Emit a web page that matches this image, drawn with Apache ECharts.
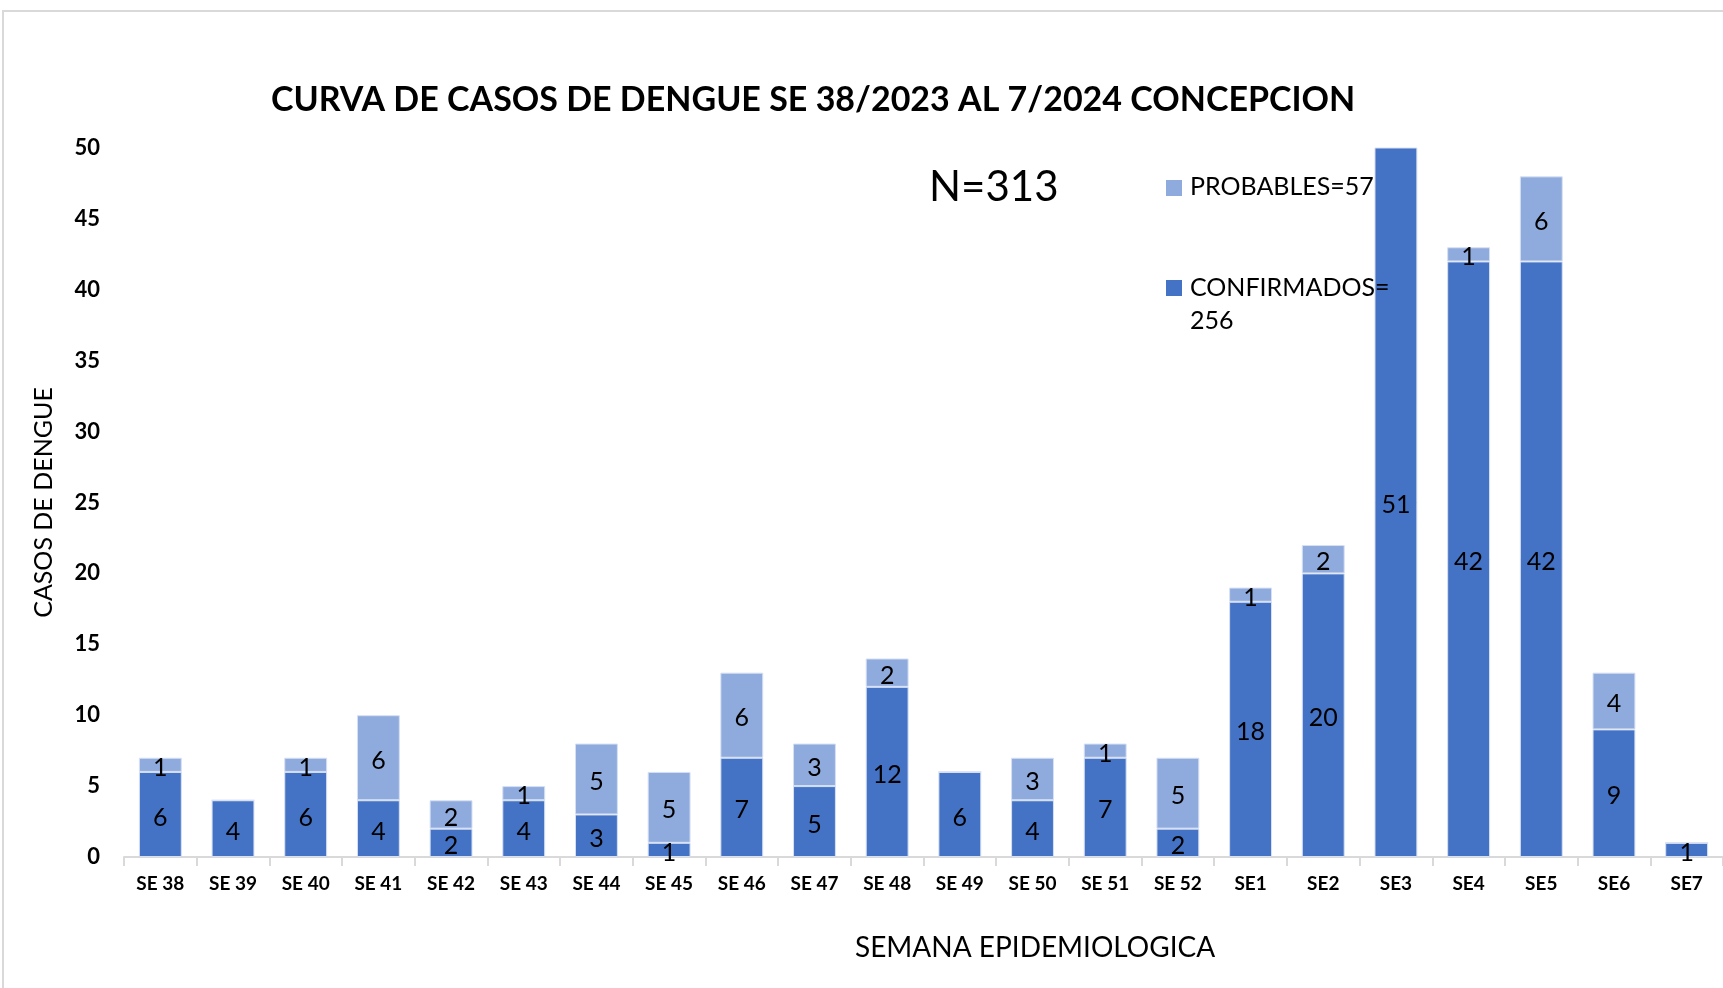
<!DOCTYPE html>
<html>
<head>
<meta charset="utf-8">
<style>
html,body{margin:0;padding:0;background:#fff;}
#chart{width:1723px;height:988px;}
</style>
<script src="https://cdn.jsdelivr.net/npm/echarts@6/dist/echarts.min.js"></script>
</head>
<body>
<div id="chart"></div>
<script>
// semanas epidemiologicas
var semanas=['SE 38','SE 39','SE 40','SE 41','SE 42','SE 43','SE 44','SE 45','SE 46','SE 47','SE 48','SE 49','SE 50','SE 51','SE 52','SE1','SE2','SE3','SE4','SE5','SE6','SE7'];
var confirmados=[6,4,6,4,2,4,3,1,7,5,12,6,4,7,2,18,20,51,42,42,9,1];
var probables=[1,0,1,6,2,1,5,5,6,3,2,0,3,1,5,1,2,0,1,6,4,0];
var yTicks=[0,5,10,15,20,25,30,35,40,45,50];

var cConf='#4472C4',cProb='#8FAADC';
var fuente='Lato, "Open Sans", sans-serif';

var myChart=echarts.init(document.getElementById('chart'));
var option={
    backgroundColor:'#fff',
    animation:false,
    title:{
        text:'CURVA DE CASOS DE DENGUE SE 38/2023 AL 7/2024 CONCEPCION',
        left:266,
        top:78,
        textStyle:{fontFamily:fuente,fontWeight:'bold',fontSize:34,color:'#000'}
    },
    grid:{left:124,right:0,top:148,bottom:131},
    xAxis:{
        type:'category',
        data:semanas,
        axisLine:{lineStyle:{color:'#D9D9D9',width:2}},
        axisTick:{show:true,length:9,lineStyle:{color:'#D9D9D9',width:2}},
        axisLabel:{fontFamily:fuente,fontWeight:'bold',fontSize:19,color:'#000',margin:17}
    },
    yAxis:{
        type:'value',
        min:yTicks[0],
        max:yTicks[yTicks.length-1],
        interval:5,
        name:'CASOS DE DENGUE',
        nameLocation:'middle',
        nameGap:68,
        nameTextStyle:{fontFamily:fuente,fontSize:25,color:'#000'},
        axisLine:{show:false},
        axisTick:{show:false},
        splitLine:{show:false},
        axisLabel:{fontFamily:fuente,fontWeight:'bold',fontSize:22,color:'#000',margin:24}
    },
    series:[
        {
            name:'CONFIRMADOS',
            type:'bar',
            stack:'total',
            data:confirmados,
            barCategoryGap:'41%',
            itemStyle:{color:cConf,borderColor:'#D6E0F3',borderWidth:1},
            label:{
                show:true,
                position:'inside',
                fontFamily:fuente,
                fontSize:25,
                color:'#000',
                offset:[0,3],
                formatter:function(p){return p.value>0?p.value:'';}
            }
        },
        {
            name:'PROBABLES',
            type:'bar',
            stack:'total',
            data:probables,
            itemStyle:{color:cProb,borderColor:'#D6E0F3',borderWidth:1},
            label:{
                show:true,
                position:'inside',
                fontFamily:fuente,
                fontSize:25,
                color:'#000',
                offset:[0,3],
                formatter:function(p){return p.value>0?p.value:'';}
            }
        }
    ],
    graphic:[
        {type:'rect',shape:{x:3,y:11,width:1740,height:1000},style:{fill:'none',stroke:'#D9D9D9',lineWidth:2},silent:true,z:-10},
        {type:'text',left:929,top:166,z:100,style:{text:'N=313',font:'42px '+fuente,fill:'#000'}},
        {type:'rect',shape:{x:1166,y:180,width:16,height:16},z:100,style:{fill:cProb}},
        {type:'text',left:1190,top:174,z:100,style:{text:'PROBABLES=57',font:'25px '+fuente,fill:'#000'}},
        {type:'rect',shape:{x:1166,y:280,width:16,height:16},z:100,style:{fill:cConf}},
        {type:'text',left:1190,top:271,z:100,style:{text:'CONFIRMADOS=\n256',font:'25px '+fuente,fill:'#000',lineHeight:33}},
        {type:'text',left:855,top:934,style:{text:'SEMANA EPIDEMIOLOGICA',font:'28px '+fuente,fill:'#000'}}
    ]
};
myChart.setOption(option);
</script>
</body>
</html>
